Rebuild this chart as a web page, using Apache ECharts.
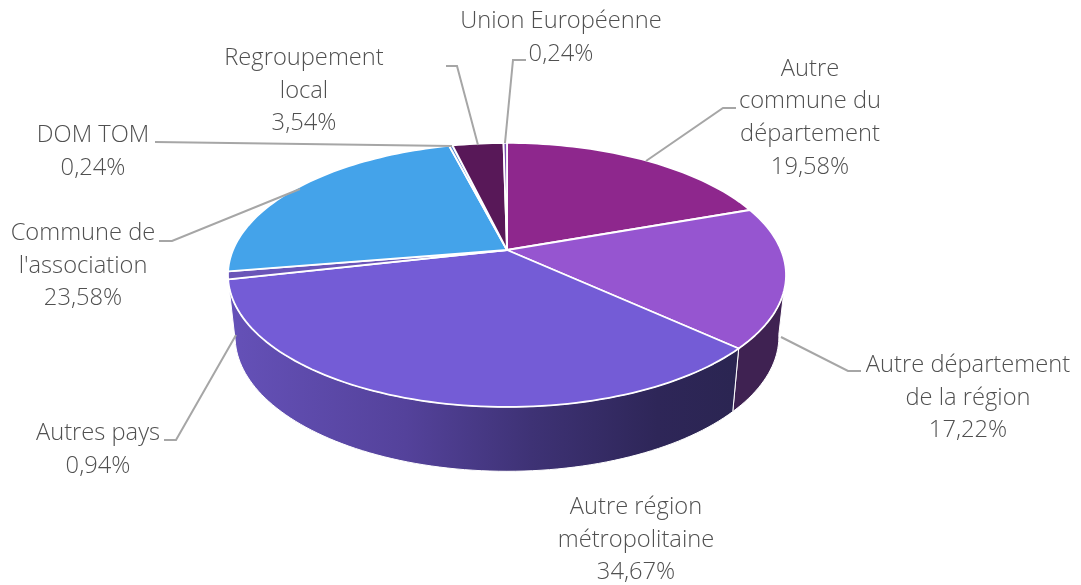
<!DOCTYPE html>
<html>
<head>
<meta charset="utf-8">
<style>
html,body{margin:0;padding:0;background:#fff;}
#main{width:1081px;height:585px;}
</style>
<script src="https://cdn.jsdelivr.net/npm/echarts@6/dist/echarts.min.js"></script>
</head>
<body>
<div id="main"></div>
<script>
var categories = ['Autre\ncommune du\ndépartement', 'Autre département\nde la région', 'Autre région\nmétropolitaine', 'Autres pays', 'Commune de\nl\'association', 'DOM TOM', 'Regroupement\nlocal', 'Union Européenne'];
var values = [19.58, 17.22, 34.67, 0.94, 23.58, 0.24, 3.54, 0.24];
var topColors = ['#8e278d', '#9655d0', '#745cd6', '#6a55b8', '#44a3ea', '#5a86d0', '#581858', '#7a4fb0'];

// label centres and leader lines, in pixels
var labelPos = [[810, 118], [968, 398], [636, 540], [98, 450], [83, 266], [93, 152], [304, 91], [561, 38]];
var leaders = [
    [[736, 108], [723, 108], [646, 161]],
    [[861, 371], [848, 371], [781, 337]],
    null,
    [[164, 440], [176, 440], [236, 335]],
    [[159, 241], [172, 241], [300, 189]],
    [[155, 142], [452, 146]],
    [[446, 66], [457, 66], [478, 145]],
    [[526, 60], [513, 60], [505, 143]]
];

// perspective of the disc: back rim is squeezed, front rim stretched
var K = 0.189;
var topRim = {x: 507, y: 250, a: 274, b: 127.3};
var bottomRim = {x: 507, y: 311, a: 267, b: 130};

function project(rim, deg) {
    var t = deg * Math.PI / 180;
    var X = Math.sin(t), Y = Math.cos(t), d = 1 + K * Y;
    return [rim.x + rim.a * X / d, rim.y - rim.b * Y / d];
}
function arc(rim, from, to) {
    var pts = [], n = Math.max(2, Math.ceil((to - from) / 1.5));
    for (var i = 0; i <= n; i++) {
        pts.push(project(rim, from + (to - from) * i / n));
    }
    return pts;
}

var total = values.reduce(function (s, v) { return s + v; }, 0);
var starts = [];
values.reduce(function (s, v, i) { starts[i] = s; return s + v; }, 0);
function range(i) {
    return [starts[i] / total * 360, (starts[i] + values[i]) / total * 360];
}

var wallDark = '#3f2252';
var wallGradient = new echarts.graphic.LinearGradient(229, 0, 733, 0, [
    {offset: 0, color: '#6551b8'},
    {offset: 0.35, color: '#54429b'},
    {offset: 0.6, color: '#3e3275'},
    {offset: 0.85, color: '#2e2658'},
    {offset: 1, color: '#2b2552'}
], true);

var option = {
    backgroundColor: '#fff',
    animation: false,
    series: [
        {
            type: 'custom',
            coordinateSystem: 'none',
            silent: true,
            data: values,
            renderItem: function (params) {
                var r = range(params.dataIndex), mid = (r[0] + r[1]) / 2;
                if (mid < 90 || mid > 258.5) return null; // back walls stay hidden
                var from = Math.max(r[0], 100); // wall turns away past the right edge
                var pts = arc(topRim, from, r[1]).concat(arc(bottomRim, from, r[1]).reverse());
                return {
                    type: 'polygon',
                    shape: {points: pts},
                    style: {fill: mid < 120 ? wallDark : wallGradient, stroke: '#fff', lineWidth: 1}
                };
            }
        },
        {
            type: 'custom',
            coordinateSystem: 'none',
            silent: true,
            data: values,
            renderItem: function (params) {
                var i = params.dataIndex, r = range(i);
                var pts = [[topRim.x, topRim.y]].concat(arc(topRim, r[0], r[1]));
                return {
                    type: 'polygon',
                    shape: {points: pts},
                    style: {fill: topColors[i], stroke: '#fff', lineWidth: 1.8, lineJoin: 'round'}
                };
            }
        },
        {
            type: 'custom',
            coordinateSystem: 'none',
            silent: true,
            data: values,
            renderItem: function (params) {
                var i = params.dataIndex;
                var children = [{
                    type: 'text',
                    x: labelPos[i][0],
                    y: labelPos[i][1],
                    style: {
                        text: categories[i] + '\n' + values[i].toFixed(2).replace('.', ',') + '%',
                        fill: '#505050',
                        font: '300 23.7px "Open Sans"',
                        lineHeight: 32.6,
                        align: 'center',
                        verticalAlign: 'middle'
                    }
                }];
                if (leaders[i]) {
                    children.push({
                        type: 'polyline',
                        shape: {points: leaders[i]},
                        style: {fill: 'none', stroke: '#a6a6a6', lineWidth: 2}
                    });
                }
                return {type: 'group', children: children};
            }
        }
    ]
};

var myChart = echarts.init(document.getElementById('main'));
myChart.setOption(option);
</script>
</body>
</html>
